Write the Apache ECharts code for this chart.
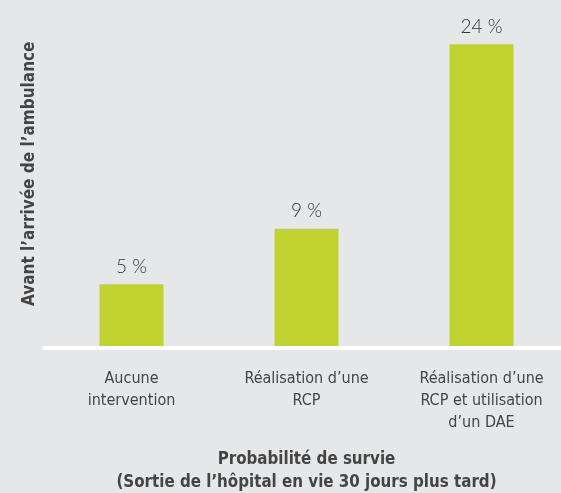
<!DOCTYPE html>
<html>
<head>
<meta charset="utf-8">
<style>
html,body{margin:0;padding:0;background:#e6e7e9;overflow:hidden;}
#c{position:absolute;left:0;top:0;width:561px;height:493px;}
</style>
<script src="https://cdn.jsdelivr.net/npm/echarts@6/dist/echarts.min.js"></script>
</head>
<body>
<div id="c"></div>
<script>
const categories = ["Aucune\nintervention", "Réalisation d’une\nRCP", "Réalisation d’une\nRCP et utilisation\nd’un DAE"];
const survivalValues = [5, 9.4, 24];
const valueLabels = ["5 %", "9 %", "24 %"];
const xAxisTitle = "Probabilité de survie\n(Sortie de l’hôpital en vie 30 jours plus tard)";
const yAxisTitle = "Avant l’arrivée de l’ambulance";

const narrow = "'Liberation Sans Narrow', 'DejaVu Sans Condensed', sans-serif";
const chart = echarts.init(document.getElementById('c'), null, {renderer: 'canvas', width: 561, height: 493});
chart.setOption({
  backgroundColor: '#e6e7e9',
  animation: false,
  grid: {left: 44, top: 0, width: 525, height: 347.5, containLabel: false, outerBoundsMode: 'none'},
  xAxis: {
    type: 'category',
    data: categories,
    z: 5,
    axisLine: {show: true, lineStyle: {color: '#ffffff', width: 4}},
    axisTick: {show: false},
    axisLabel: {color: '#444444', fontFamily: narrow, fontSize: 16, lineHeight: 22, margin: 20, interval: 0},
    name: xAxisTitle,
    nameLocation: 'middle',
    nameGap: 101,
    nameTextStyle: {color: '#444444', fontFamily: narrow, fontWeight: 'bold', fontSize: 16.8, lineHeight: 23}
  },
  yAxis: {
    type: 'value',
    min: 0,
    max: 27.5,
    axisLine: {show: false},
    axisTick: {show: false},
    axisLabel: {show: false},
    splitLine: {show: false},
    name: yAxisTitle,
    nameLocation: 'middle',
    nameGap: 6,
    nameRotate: 90,
    nameTextStyle: {color: '#444444', fontFamily: narrow, fontWeight: 'bold', fontSize: 17}
  },
  series: [{
    type: 'bar',
    data: survivalValues,
    barWidth: 64,
    itemStyle: {color: '#c0d330'},
    label: {
      show: true,
      position: 'top',
      distance: 8,
      formatter: p => valueLabels[p.dataIndex],
      color: '#333333',
      fontFamily: "Lato, 'Open Sans', sans-serif",
      fontWeight: 300,
      fontSize: 19
    }
  }]
});
</script>
</body>
</html>
